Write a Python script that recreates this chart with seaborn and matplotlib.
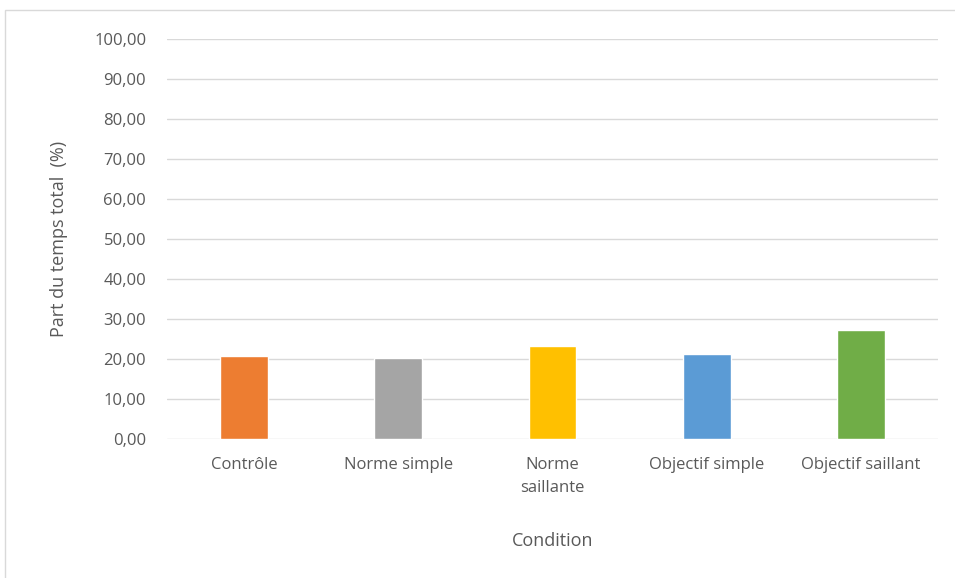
import matplotlib
matplotlib.use("Agg")
import matplotlib.pyplot as plt
import matplotlib.patches as mpatches
from matplotlib.ticker import FuncFormatter, MultipleLocator
import pandas as pd
import seaborn as sns

# Data
conditions = ["Contrôle", "Norme simple", "Norme\nsaillante", "Objectif simple", "Objectif saillant"]
part_temps = [20.75, 20.15, 23.3, 21.3, 27.3]
bar_colors = ["#ed7d31", "#a5a5a5", "#ffc000", "#5b9bd5", "#70ad47"]

df = pd.DataFrame({"Condition": conditions, "Part": part_temps})

sns.set_style("white")
plt.rcParams["font.family"] = ["Open Sans", "DejaVu Sans"]

fig = plt.figure(figsize=(9.55, 5.78), dpi=100)
ax = fig.add_axes([167 / 955, 1 - 439 / 578, (938 - 167) / 955, 400 / 578])

sns.barplot(data=df, x="Condition", y="Part", hue="Condition", palette=bar_colors,
            legend=False, width=0.31, ax=ax, saturation=1)

ax.set_ylim(0, 100)
ax.yaxis.set_major_locator(MultipleLocator(10))
ax.yaxis.set_major_formatter(FuncFormatter(lambda v, p: f"{v:.2f}".replace(".", ",")))
ax.grid(axis="y", color="#d9d9d9", linewidth=1)
ax.set_axisbelow(True)
for s in ax.spines.values():
    s.set_visible(False)
ax.tick_params(axis="both", length=0, labelsize=12, colors="#595959")
ax.tick_params(axis="y", pad=15)
ax.tick_params(axis="x", pad=13)
for lbl in ax.get_xticklabels():
    lbl.set_linespacing(1.55)

ax.set_xlabel("Condition", fontsize=13, color="#595959", labelpad=26)
ax.set_ylabel("Part du temps total  (%)", fontsize=13, color="#595959", labelpad=19)

# light frame around the chart
fig.patches.append(mpatches.Rectangle((5 / 955, -0.01), 1.0, 1 - 10 / 578 + 0.01,
                                      transform=fig.transFigure, fill=False,
                                      edgecolor="#d9d9d9", linewidth=1))

fig.savefig("out.png", dpi=100)
